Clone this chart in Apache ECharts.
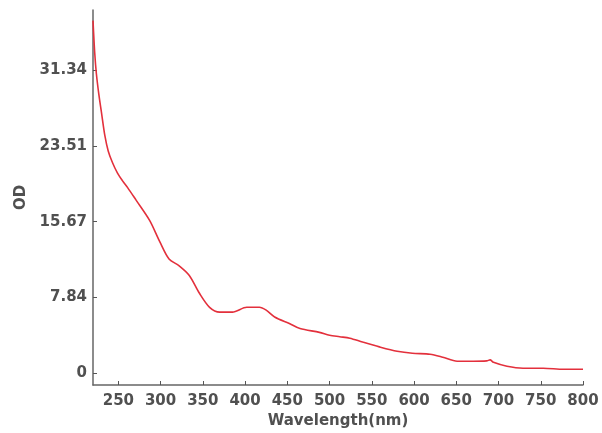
<!DOCTYPE html>
<html><head><meta charset="utf-8">
<script src="https://cdn.jsdelivr.net/npm/echarts@6/dist/echarts.min.js"></script>
<style>html,body{margin:0;padding:0;background:#fff}#c{width:602px;height:433px}</style>
</head><body><div id="c"></div>
<script>
const wavelength = [220,222,224,227,230,234,238,243,249,255,261,271,287,299,310,322,334,346,358,370,385,402,417,425,435,453,465,488,500,512,524,539,559,580,598,619,634,651,670,686,690,694,710,729,753,777,800];
const od = [36.5,33.2,31.0,28.8,27.0,24.6,23.0,21.8,20.7,19.9,19.2,17.9,15.8,13.6,11.8,11.1,10.1,8.25,6.8,6.3,6.3,6.8,6.8,6.5,5.8,5.1,4.6,4.2,3.9,3.75,3.6,3.2,2.7,2.25,2.04,1.94,1.63,1.21,1.21,1.25,1.35,1.1,0.69,0.49,0.49,0.38,0.38];
const xTicks = [250,300,350,400,450,500,550,600,650,700,750,800];
const yTicks = [0,7.835,15.67,23.505,31.34];
const yTickLabels = ['0','7.84','15.67','23.51','31.34'];

const chart = echarts.init(document.getElementById('c'));
const font = 'DejaVu Sans';
const txt = {color:'#505050',fontFamily:font,fontSize:15,fontWeight:'bold'};
chart.setOption({
  animation:false,
  grid:{left:93,right:19,top:10,bottom:48,containLabel:false,outerBoundsMode:'none'},
  xAxis:{type:'value',min:220,max:800,
    name:'Wavelength(nm)',nameLocation:'middle',nameGap:29,
    nameTextStyle:Object.assign({},txt),
    axisLine:{onZero:false,lineStyle:{color:'#666',width:1.5}},
    axisTick:{show:true,inside:true,length:4,customValues:xTicks,lineStyle:{color:'#555'}},
    axisLabel:Object.assign({customValues:xTicks,margin:9},txt),
    splitLine:{show:false}},
  yAxis:{type:'value',min:-1.25,max:37.6,
    name:'OD',nameLocation:'middle',nameGap:59,nameRotate:90,
    nameTextStyle:Object.assign({},txt),
    axisLine:{show:true,onZero:false,lineStyle:{color:'#666',width:1.5}},
    axisTick:{show:true,inside:true,length:4,customValues:yTicks,lineStyle:{color:'#555'}},
    axisLabel:Object.assign({customValues:yTicks,margin:6,
      formatter:function(v){const i=yTicks.findIndex(t=>Math.abs(t-v)<1e-6);return i>=0?yTickLabels[i]:'';}},txt),
    splitLine:{show:false}},
  series:[{type:'line',data:wavelength.map((w,i)=>[w,od[i]]),smooth:0.3,showSymbol:false,
    lineStyle:{color:'#e3303c',width:1.6}}]
});
</script></body></html>
